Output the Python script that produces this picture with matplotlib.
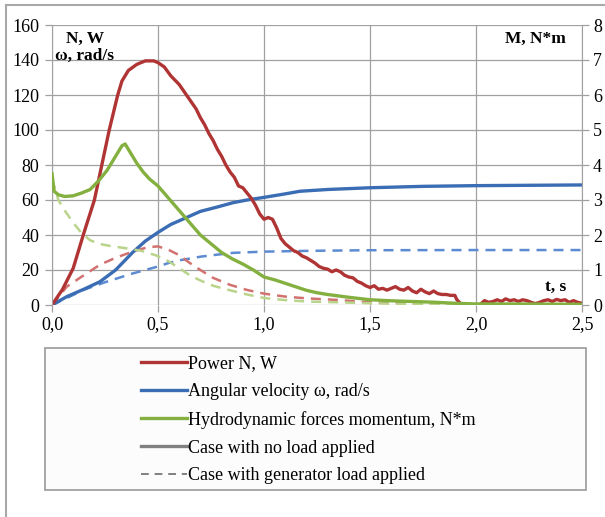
import numpy as np
import matplotlib.pyplot as plt
from matplotlib.lines import Line2D
from matplotlib.patches import Rectangle
from matplotlib.ticker import FuncFormatter

plt.rcParams['font.family'] = ['Liberation Serif', 'DejaVu Serif']

# power N, W (no load)
power_t = [0.00, 0.05, 0.10, 0.15, 0.20, 0.235, 0.27, 0.31, 0.33, 0.36, 0.40, 0.44, 0.48, 0.50,
           0.53, 0.56, 0.60, 0.64, 0.68, 0.70, 0.72, 0.74, 0.76, 0.78, 0.80, 0.82, 0.84, 0.86,
           0.88, 0.90, 0.92, 0.94, 0.96, 0.98, 1.00, 1.02, 1.04, 1.06, 1.08, 1.10, 1.12, 1.14,
           1.16, 1.18, 1.20, 1.22, 1.24, 1.26, 1.28, 1.30, 1.32, 1.34, 1.36, 1.38, 1.40, 1.42,
           1.44, 1.46, 1.48, 1.50, 1.52, 1.54, 1.56, 1.58, 1.60, 1.62, 1.64, 1.66, 1.68, 1.70,
           1.72, 1.74, 1.76, 1.78, 1.80, 1.82, 1.84, 1.86, 1.88, 1.90, 1.91, 1.93, 1.96, 2.00,
           2.02, 2.04, 2.06, 2.08, 2.10, 2.12, 2.14, 2.16, 2.18, 2.20, 2.22, 2.24, 2.26, 2.28,
           2.30, 2.32, 2.34, 2.36, 2.38, 2.40, 2.42, 2.44, 2.46, 2.48, 2.50]
power_v = [0, 9, 21, 41, 60, 80, 100, 120, 128, 134, 137.5, 139.5, 139.5, 138.5,
           136, 131, 126, 119, 112, 107, 103, 98, 94, 89, 85, 80, 76, 73,
           68, 67, 64, 61, 57, 52, 49, 50, 49, 44, 38, 35, 33, 31,
           30, 28, 27, 25.5, 24, 22, 21, 20.5, 19, 20, 19, 17, 16, 15.5,
           13.5, 12.5, 11, 10, 11, 9, 9.5, 8.5, 9.5, 10.5, 9, 8.5, 10, 8,
           7, 9, 7.5, 6.5, 8, 6.5, 6, 6, 5.5, 5.5, 3, 0.5, 0, 0,
           0.3, 2.5, 1.5, 2, 3, 2, 3.5, 2.5, 3, 2, 3, 2.5, 1.5, 0.8,
           1.5, 2.5, 3, 2, 3.2, 2.5, 3, 1.5, 2.5, 1.5, 1]

# power N, W (generator load)
power_load_t = [0, 0.07, 0.15, 0.226, 0.30, 0.38, 0.45, 0.50, 0.55, 0.60, 0.65, 0.70, 0.76,
                0.84, 0.92, 1.00, 1.10, 1.20, 1.36, 1.50, 1.70, 2.00, 2.50]
power_load_v = [0, 10.5, 17, 23, 27, 30.5, 33, 33.5, 31.5, 28.5, 24, 20, 15.5,
                11.5, 8.6, 6.5, 4.8, 3.8, 2.8, 1.5, 0.8, 0.3, 0]

# angular velocity, rad/s
omega_t = [0, 0.07, 0.15, 0.226, 0.30, 0.38, 0.44, 0.50, 0.56, 0.635, 0.70, 0.78, 0.855,
           0.92, 1.00, 1.10, 1.17, 1.30, 1.50, 1.75, 2.00, 2.25, 2.50]
omega_v = [0, 4.8, 9, 13.3, 20, 30, 36.5, 41.5, 46, 50, 53.5, 56, 58.5,
           60, 61.5, 63.5, 65, 66, 67, 67.8, 68.2, 68.4, 68.6]
omega_load_t = [0, 0.07, 0.148, 0.25, 0.38, 0.50, 0.55, 0.60, 0.70, 0.76, 0.855, 1.00,
                1.24, 1.50, 2.00, 2.50]
omega_load_v = [0, 4, 8.6, 13, 18, 22, 24, 25.5, 27.6, 28.5, 29.8, 30.5,
                31, 31.3, 31.4, 31.4]

# hydrodynamic forces momentum, N*m
moment_t = [0.0, 0.005, 0.01, 0.03, 0.06, 0.10, 0.14, 0.18, 0.22, 0.26, 0.30, 0.33, 0.345,
            0.37, 0.40, 0.43, 0.46, 0.50, 0.55, 0.60, 0.65, 0.70, 0.75, 0.80, 0.85, 0.90,
            0.95, 1.00, 1.05, 1.10, 1.15, 1.20, 1.25, 1.30, 1.40, 1.50, 1.60, 1.70, 1.80,
            1.90, 2.00, 2.20, 2.50]
moment_v = [3.75, 3.5, 3.25, 3.15, 3.1, 3.12, 3.2, 3.3, 3.55, 3.85, 4.25, 4.55, 4.6,
            4.35, 4.05, 3.8, 3.6, 3.4, 3.05, 2.7, 2.35, 2.0, 1.75, 1.5, 1.32, 1.17,
            1.0, 0.8, 0.72, 0.62, 0.52, 0.42, 0.35, 0.3, 0.22, 0.15, 0.12, 0.1, 0.08,
            0.05, 0.03, 0.03, 0.02]
moment_load_t = [0, 0.01, 0.03, 0.06, 0.10, 0.14, 0.18, 0.22, 0.28, 0.35, 0.42, 0.49, 0.55,
                 0.60, 0.65, 0.70, 0.76, 0.84, 0.92, 1.00, 1.10, 1.20, 1.36, 1.50, 1.70,
                 2.00, 2.50]
moment_load_v = [3.6, 3.4, 3.0, 2.7, 2.35, 2.05, 1.85, 1.75, 1.68, 1.62, 1.55, 1.42, 1.25,
                 1.05, 0.85, 0.7, 0.55, 0.42, 0.3, 0.2, 0.14, 0.1, 0.075, 0.05, 0.025,
                 0.01, 0]

legend_labels = ['Power N, W', 'Angular velocity \u03c9, rad/s',
                 'Hydrodynamic forces momentum, N*m', 'Case with no load applied',
                 'Case with generator load applied']

red, blue, green, gray = '#B03434', '#3A6DB3', '#84B040', '#808080'
red_d, blue_d, green_d = '#D27270', '#5C8BD2', '#BAD48C'

fig = plt.figure(figsize=(6.05, 5.17), dpi=100)
ax = fig.add_axes([52 / 605, 1 - 305 / 517, 530 / 605, 280 / 517])
ax2 = ax.twinx()

dash = (0, (4, 2.8))
ax.plot(omega_load_t, omega_load_v, color=blue_d, lw=1.8, ls=dash)
ax.plot(power_load_t, power_load_v, color=red_d, lw=1.8, ls=dash)
ax2.plot(moment_load_t, moment_load_v, color=green_d, lw=1.8, ls=dash)
ax.plot(omega_t, omega_v, color=blue, lw=2.4)
ax2.plot(moment_t, moment_v, color=green, lw=2.4)
ax.plot(power_t, power_v, color=red, lw=2.4)

ax.set_xlim(0, 2.5)
ax.set_ylim(0, 160)
ax2.set_ylim(0, 8)
ax.set_xticks(np.arange(0, 2.51, 0.5))
ax.set_yticks(np.arange(0, 161, 20))
ax2.set_yticks(np.arange(0, 9, 1))
ax.xaxis.set_major_formatter(FuncFormatter(lambda v, p: f'{v:.1f}'.replace('.', ',')))
ax.grid(True, color='#A0A0A0', lw=0.9)
ax.set_axisbelow(True)
for a in (ax, ax2):
    for s in a.spines.values():
        s.set_visible(False)
ax.spines['left'].set_visible(True)
ax.spines['left'].set_color('#A0A0A0')
ax2.spines['right'].set_visible(True)
ax2.spines['right'].set_color('#A0A0A0')
ax.tick_params(axis='both', labelsize=13, color='#A0A0A0', length=5, width=0.9)
ax.tick_params(axis='y', pad=4)
ax.tick_params(axis='x', pad=3)
ax2.tick_params(axis='y', labelsize=13, color='#A0A0A0', length=5, width=0.9, pad=3)

ax.text(0.027, 0.978, 'N, W', transform=ax.transAxes, fontsize=12.5, fontweight='bold', va='top')
ax.text(0.005, 0.918, '\u03c9, rad/s', transform=ax.transAxes, fontsize=12.5, fontweight='bold', va='top')
ax.text(0.97, 0.978, 'M, N*m', transform=ax.transAxes, fontsize=12.5, fontweight='bold', va='top', ha='right')
ax.text(0.97, 0.035, 't, s', transform=ax.transAxes, fontsize=12.5, fontweight='bold', va='bottom', ha='right')

# outer frame (left/top edges visible)
fig.add_artist(Line2D([6 / 605, 6 / 605], [0, 1 - 5 / 517], color='#A8A8A8', lw=1.5))
fig.add_artist(Line2D([6 / 605, 1], [1 - 5 / 517, 1 - 5 / 517], color='#A8A8A8', lw=1.5))

# legend box
fig.add_artist(Rectangle((45 / 605, 1 - 490 / 517), 541 / 605, 142 / 517, transform=fig.transFigure,
                         facecolor='#FCFCFC', edgecolor='#999999', lw=1.2))
handles = [Line2D([], [], color=red, lw=2.4), Line2D([], [], color=blue, lw=2.4),
           Line2D([], [], color=green, lw=2.4), Line2D([], [], color=gray, lw=2.4),
           Line2D([], [], color=gray, lw=1.4, ls=(0, (4, 3)))]
fig.legend(handles, legend_labels, loc='upper left', bbox_to_anchor=(134 / 605, 1 - 348 / 517),
           frameon=False, fontsize=13, handlelength=2.55, handletextpad=0.05, labelspacing=0.6,
           borderaxespad=0)

fig.savefig('out.png', dpi=100)
